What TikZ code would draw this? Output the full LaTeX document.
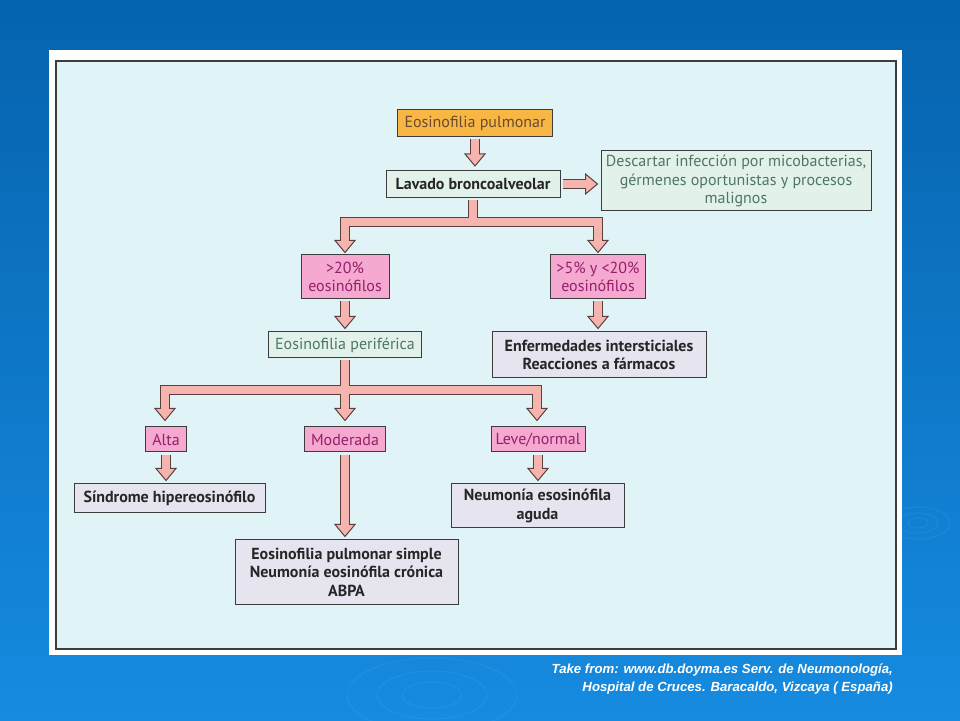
\documentclass[tikz,border=0pt]{standalone}
\usepackage{fontspec}
\setmainfont{PT Sans}
\newfontfamily\notefont{Liberation Sans}
\usetikzlibrary{calc}

\definecolor{slidetop}{HTML}{0663AE}
\definecolor{slidebot}{HTML}{168BE0}
\definecolor{ripple}{HTML}{5AB4FF}
\definecolor{panel}{HTML}{E0F3F6}
\definecolor{rim}{HTML}{3C3C3C}
\definecolor{orangebox}{HTML}{F8B645}
\definecolor{orangetext}{HTML}{6A4B2E}
\definecolor{mintbox}{HTML}{E2F2EA}
\definecolor{minttext}{HTML}{4F7565}
\definecolor{pinkbox}{HTML}{F5A8D0}
\definecolor{pinktext}{HTML}{94206A}
\definecolor{lilacbox}{HTML}{E6E4EF}
\definecolor{arrfill}{HTML}{F6B4AE}
\definecolor{arrline}{HTML}{5B3F3F}

\pgfdeclarelayer{bg}
\pgfdeclarelayer{back}
\pgfdeclarelayer{mid}
\pgfsetlayers{bg,back,mid,main}

\tikzstyle{box}=[draw=rim, line width=1pt, inner sep=0pt, align=center, font=\fontsize{16}{18.5}\selectfont]
\tikzstyle{firstbox}=[box, fill=orangebox, text=orangetext]
\tikzstyle{testbox}=[box, fill=mintbox, text=black!85, font=\fontsize{16}{18.5}\selectfont\bfseries]
\tikzstyle{notebox}=[box, fill=mintbox, text=minttext]
\tikzstyle{rangebox}=[box, fill=pinkbox, text=pinktext]
\tikzstyle{diagbox}=[box, fill=lilacbox, text=black!85, font=\fontsize{16}{18.5}\selectfont\bfseries]
\tikzstyle{shaftout}=[draw=arrline, line width=10pt]
\tikzstyle{shaftin}=[draw=arrfill, line width=8pt]
\tikzstyle{head}=[fill=arrfill, draw=arrline, line width=1pt, line join=miter]

\newcommand{\shaft}[1]{\begin{pgfonlayer}{back}\draw[shaftout] #1;\end{pgfonlayer}\draw[shaftin] #1;}
\newcommand{\headdown}[1]{\begin{pgfonlayer}{mid}\draw[head] #1 -- ++(-10,12) -- ++(20,0) -- cycle;\end{pgfonlayer}}
\newcommand{\headright}[1]{\begin{pgfonlayer}{mid}\draw[head] #1 -- ++(-12,10) -- ++(0,-20) -- cycle;\end{pgfonlayer}}

\begin{document}
\begin{tikzpicture}[x=1pt, y=1pt]
\useasboundingbox (0,0) rectangle (960,720);
\begin{pgfonlayer}{bg}
\shade[top color=slidetop, bottom color=slidebot] (0,0) rectangle (960,720);
\begin{scope}[draw=ripple, opacity=0.15, line width=1.2pt]
       \foreach \r in {10,20,32} \draw (918,197) ellipse ({\r} and {\r/2});
       \foreach \r in {30,55,85} \draw (432,25) ellipse ({\r} and {\r/2.3});
\end{scope}
\fill[white] (49,65) rectangle (902,670);
\draw[rim, fill=panel, line width=1.5pt] (56,71) rectangle (896,659);
\end{pgfonlayer}

\node[firstbox, minimum width=155, minimum height=27](pul) at (475,596.5) {Eosinofilia pulmonar};
\node[testbox, minimum width=174, minimum height=27](lav) at (473,536) {Lavado broncoalveolar};
\node[notebox, minimum width=270, minimum height=60](desc) at (736,539) {Descartar infección por micobacterias,\\gérmenes oportunistas y procesos\\malignos};
\node[rangebox, minimum width=88, minimum height=44](gt20) at (345,443) {>20\%\\eosinófilos};
\node[rangebox, minimum width=95, minimum height=44](gt5) at (598,443) {>5\% y <20\%\\eosinófilos};
\node[notebox, minimum width=153, minimum height=26](per) at (345,375) {Eosinofilia periférica};
\node[diagbox, minimum width=214, minimum height=46](enf) at (599,365) {Enfermedades intersticiales\\Reacciones a fármacos};
\node[rangebox, minimum width=41, minimum height=25](alta) at (166,280.5) {Alta};
\node[rangebox, minimum width=81, minimum height=25](mod) at (345,280.5) {Moderada};
\node[rangebox, minimum width=94, minimum height=25](leve) at (538,280.5) {Leve/normal};
\node[diagbox, minimum width=191, minimum height=29](sin) at (169.5,221.5) {Síndrome hipereosinófilo};
\node[diagbox, minimum width=173, minimum height=44](neu) at (537.5,214) {Neumonía esosinófila\\aguda};
\node[diagbox, minimum width=223, minimum height=64](eps) at (346.5,148) {Eosinofilia pulmonar simple\\Neumonía eosinófila crónica\\ABPA};

\node[font=\notefont\bfseries\itshape\fontsize{13.2}{18}\selectfont, text=white, align=right, anchor=north east, inner sep=0pt](src) at (893,56) {Take from: www.db.doyma.es Serv. de Neumonología,\\Hospital de Cruces. Baracaldo, Vizcaya ( España)};

\coordinate (t1) at ($(pul.south |- lav.north)+(0,4)$);
\coordinate (t2) at ($(lav.east -| desc.west)+(-3,0)$);
\coordinate (t3) at ($(gt20.north)+(0,2)$);
\coordinate (t4) at ($(gt5.north)+(0,2)$);
\coordinate (t5) at ($(gt20.south |- per.north)+(0,3)$);
\coordinate (t6) at ($(gt5.south |- enf.north)+(0,3)$);
\coordinate (t7) at ($(alta.north)+(-1,6)$);
\coordinate (t8) at ($(mod.north)+(0,6)$);
\coordinate (t9) at ($(leve.north)+(-1,6)$);
\coordinate (t10) at ($(alta.south |- sin.north)+(0,3)$);
\coordinate (t11) at ($(leve.south |- neu.north)+(0,3)$);
\coordinate (t12) at ($(mod.south |- eps.north)+(0,3)$);
\coordinate (bar1) at (473,498);
\coordinate (bar2) at (345,330);

\shaft{($(pul.south)+(0,-2)$) -- ($(t1)+(0,11)$)}
\headdown{(t1)}
\shaft{($(lav.east)+(2,0)$) -- ($(t2)+(-11,0)$)}
\headright{(t2)}
\shaft{($(lav.south)+(0,-2)$) -- (lav.south |- bar1)}
\shaft{($(t3)+(0,11)$) -- (t3 |- bar1) -- (t4 |- bar1) -- ($(t4)+(0,11)$)}
\headdown{(t3)}
\headdown{(t4)}
\shaft{($(gt20.south)+(0,-2)$) -- ($(t5)+(0,11)$)}
\headdown{(t5)}
\shaft{($(gt5.south)+(0,-2)$) -- ($(t6)+(0,11)$)}
\headdown{(t6)}
\shaft{($(per.south)+(0,-2)$) -- ($(t8)+(0,11)$)}
\shaft{($(t7)+(0,11)$) -- (t7 |- bar2) -- (t9 |- bar2) -- ($(t9)+(0,11)$)}
\headdown{(t7)}
\headdown{(t8)}
\headdown{(t9)}
\shaft{($(alta.south)+(0,-3)$) -- ($(t10)+(0,11)$)}
\headdown{(t10)}
\shaft{($(leve.south)+(0,-3)$) -- ($(t11)+(0,11)$)}
\headdown{(t11)}
\shaft{($(mod.south)+(0,-3)$) -- ($(t12)+(0,11)$)}
\headdown{(t12)}
\end{tikzpicture}
\end{document}
